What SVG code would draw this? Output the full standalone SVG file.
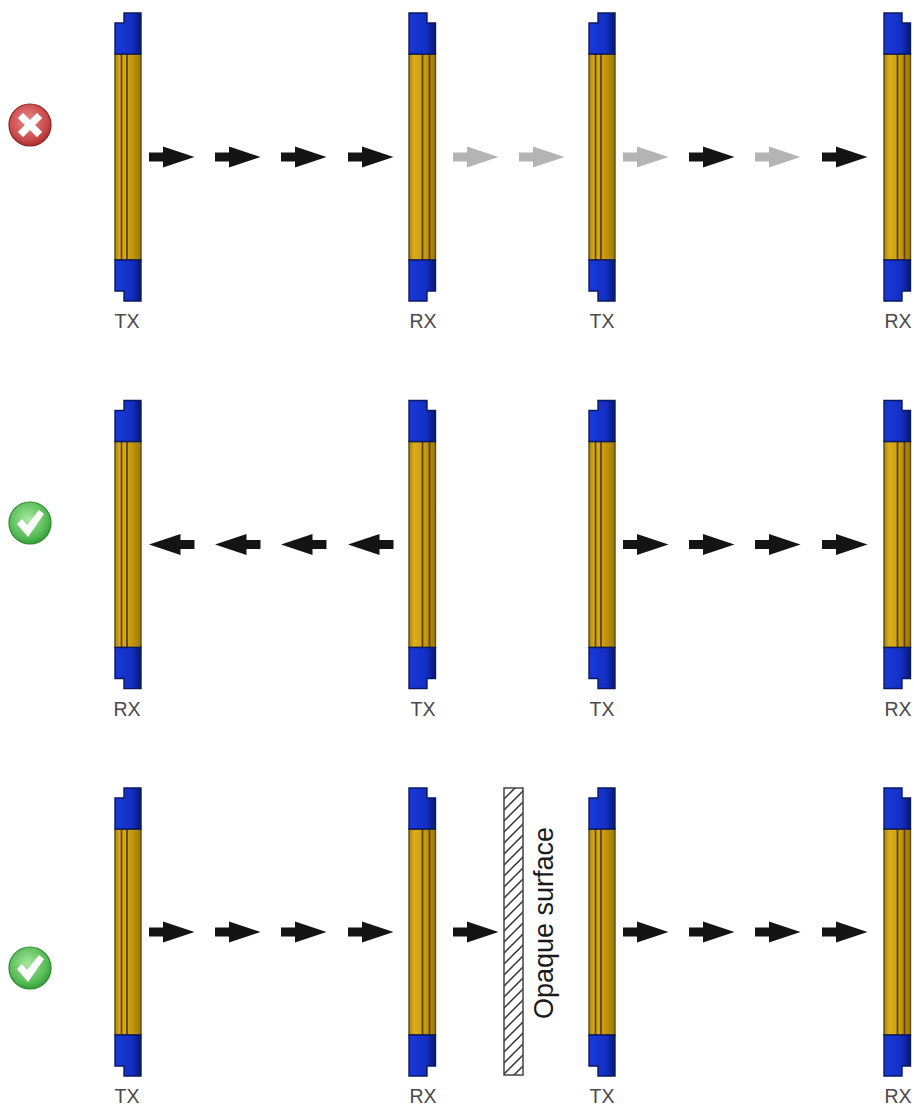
<svg xmlns="http://www.w3.org/2000/svg" width="914" height="1106" viewBox="0 0 914 1106">
<style>
.lbl{font-family:"Liberation Sans",Arial,sans-serif;font-size:19.5px;fill:#4a4a4a;text-anchor:middle}
.op{font-family:"Liberation Sans",Arial,sans-serif;font-size:27px;fill:#1a1a1a;text-anchor:middle}
.blue{fill:url(#bl);stroke:#0a1a60;stroke-width:1.4}
.gold{fill:url(#au);stroke:#5a4a14;stroke-width:1.4}
.gl{stroke:#5a3f08;stroke-width:1.7;fill:none}
.k{fill:#141414}
.g{fill:#b4b4b4}
</style>
<defs>
<linearGradient id="bl" x1="0" x2="1" y1="0" y2="0"><stop offset="0" stop-color="#1a38d8"/><stop offset=".65" stop-color="#1230c4"/><stop offset="1" stop-color="#081670"/></linearGradient>
<linearGradient id="au" x1="0" x2="1" y1="0" y2="0"><stop offset="0" stop-color="#a88410"/><stop offset=".2" stop-color="#dcae1c"/><stop offset=".6" stop-color="#c89a10"/><stop offset="1" stop-color="#9a7808"/></linearGradient>
<radialGradient id="red" cx=".45" cy=".4" r=".65"><stop offset="0" stop-color="#e88a8a"/><stop offset=".7" stop-color="#c94a4a"/><stop offset="1" stop-color="#a52626"/></radialGradient>
<radialGradient id="grn" cx=".45" cy=".4" r=".65"><stop offset="0" stop-color="#a8e8a0"/><stop offset=".7" stop-color="#55bb55"/><stop offset="1" stop-color="#2a962e"/></radialGradient>
<pattern id="hatch" patternUnits="userSpaceOnUse" width="11" height="11" patternTransform="translate(504 788)">
<path d="M-2 13L13 -2M-7 7L7 -7M4 18L18 4" stroke="#333" stroke-width="1.5" fill="none"/></pattern>
<g id="barL">
<rect class="gold" x="115" y="54" width="26" height="206"/>
<path class="gl" d="M121.5 54V260M127 54V260"/>
<path class="blue" d="M124 13H141V54H115V23H124Z"/>
<path class="blue" d="M115 260H141V301H124V291H115Z"/>
</g>
<g id="barR">
<rect class="gold" x="409" y="54" width="26.5" height="206"/>
<path class="gl" d="M422.5 54V260M429.5 54V260"/>
<path class="blue" d="M409 13H427V23H435.5V54H409Z"/>
<path class="blue" d="M409 260H435.5V291H427V301H409Z"/>
</g>
<path id="ar" d="M0 -4.5H14V-10.5L45.5 0L14 10.5V4.5H0Z"/>
<path id="al" d="M45.5 -4.5H31.5V-10.5L0 0L31.5 10.5V4.5H45.5Z"/>
<g id="x"><path d="M-7 -12L0 -5L7 -12L12 -7L5 0L12 7L7 12L0 5L-7 12L-12 7L-5 0L-12 -7Z" fill="#fff" stroke="#e8d0d0" stroke-width=".6"/></g>
<g id="c"><path d="M-13 1L-8 -4L-3 2L9 -13L14 -9L-2 14Z" fill="#fff"/></g>
</defs>

<g id="status-1"><circle cx="30" cy="125" r="21" fill="url(#red)" stroke="#8f2020" stroke-width="1.2"/><use href="#x" x="30" y="125"/></g>
<g id="status-2"><circle cx="30" cy="523" r="21" fill="url(#grn)" stroke="#2a8a2e" stroke-width="1.2"/><use href="#c" x="30" y="523"/></g>
<g id="status-3"><circle cx="30" cy="968" r="21" fill="url(#grn)" stroke="#2a8a2e" stroke-width="1.2"/><use href="#c" x="30" y="968"/></g>

<g id="row1-a"><use href="#barL"/><text class="lbl" x="127" y="328">TX</text></g>
<g id="row1-b"><use href="#barR"/><text class="lbl" x="423" y="328">RX</text></g>
<g id="row1-c"><use href="#barL" x="474"/><text class="lbl" x="602" y="328">TX</text></g>
<g id="row1-d"><use href="#barR" x="475"/><text class="lbl" x="898" y="328">RX</text></g>

<g id="row2-a"><use href="#barL" y="387.5"/><text class="lbl" x="127" y="716">RX</text></g>
<g id="row2-b"><use href="#barR" y="387.5"/><text class="lbl" x="423" y="716">TX</text></g>
<g id="row2-c"><use href="#barL" x="474" y="387.5"/><text class="lbl" x="602" y="716">TX</text></g>
<g id="row2-d"><use href="#barR" x="475" y="387.5"/><text class="lbl" x="898" y="716">RX</text></g>

<g id="row3-a"><use href="#barL" y="775"/><text class="lbl" x="127" y="1103">TX</text></g>
<g id="row3-b"><use href="#barR" y="775"/><text class="lbl" x="423" y="1103">RX</text></g>
<g id="row3-c"><use href="#barL" x="474" y="775"/><text class="lbl" x="602" y="1103">TX</text></g>
<g id="row3-d"><use href="#barR" x="475" y="775"/><text class="lbl" x="898" y="1103">RX</text></g>

<g id="opaque-surface"><rect x="504" y="788" width="19" height="287" fill="url(#hatch)" stroke="#444" stroke-width="1.5"/>
<text class="op" transform="translate(553 923) rotate(-90)">Opaque surface</text></g>

<g id="connectors">
<use class="k" href="#ar" x="149" y="157"/><use class="k" href="#ar" x="215" y="157"/><use class="k" href="#ar" x="281" y="157"/><use class="k" href="#ar" x="348" y="157"/>
<use class="g" href="#ar" x="453" y="157"/><use class="g" href="#ar" x="519" y="157"/><use class="g" href="#ar" x="623" y="157"/><use class="k" href="#ar" x="689" y="157"/><use class="g" href="#ar" x="755" y="157"/><use class="k" href="#ar" x="822" y="157"/>
<use class="k" href="#al" x="149" y="544.5"/><use class="k" href="#al" x="215" y="544.5"/><use class="k" href="#al" x="281" y="544.5"/><use class="k" href="#al" x="348" y="544.5"/>
<use class="k" href="#ar" x="623" y="544.5"/><use class="k" href="#ar" x="689" y="544.5"/><use class="k" href="#ar" x="755" y="544.5"/><use class="k" href="#ar" x="822" y="544.5"/>
<use class="k" href="#ar" x="149" y="932"/><use class="k" href="#ar" x="215" y="932"/><use class="k" href="#ar" x="281" y="932"/><use class="k" href="#ar" x="348" y="932"/><use class="k" href="#ar" x="453" y="932"/>
<use class="k" href="#ar" x="623" y="932"/><use class="k" href="#ar" x="689" y="932"/><use class="k" href="#ar" x="755" y="932"/><use class="k" href="#ar" x="822" y="932"/>
</g>
</svg>
